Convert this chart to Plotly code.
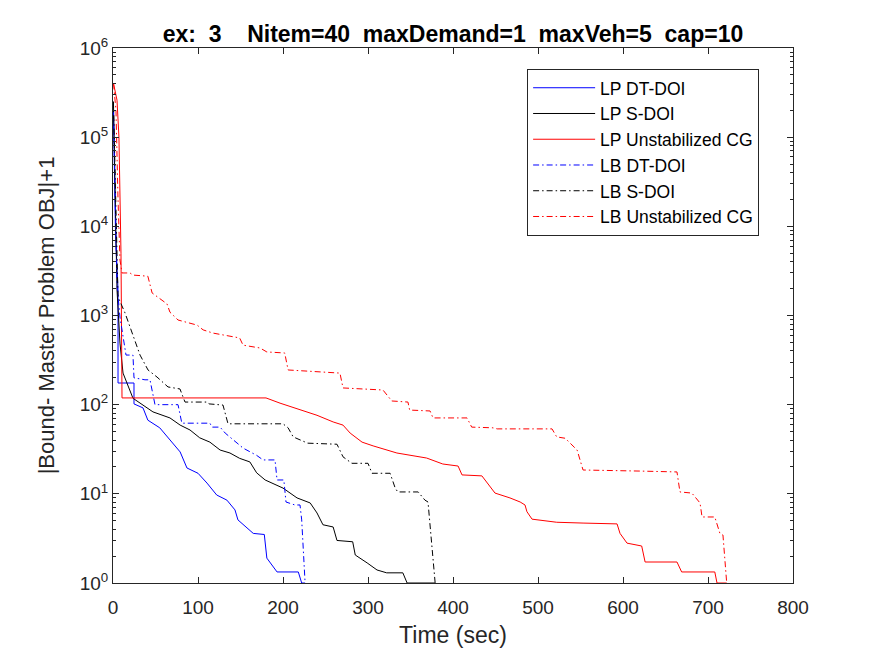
import plotly.graph_objects as go

# ---- data ----
lp_dt_x = [0.5, 3, 5.9, 5.9, 24.7, 24.7, 35.3, 41, 55, 67, 79, 87, 100, 110.6, 122, 134, 143.5, 147, 165, 178, 181, 193, 218, 222, 226]
lp_dt_y = [2.0e5, 8000, 1950, 175, 175, 102, 92, 67, 55, 40, 29.5, 19.5, 17, 13.2, 9.7, 8.5, 6.6, 5.1, 3.6, 3.5, 1.9, 1.33, 1.33, 1.0, 1.0]

lp_s_x = [0.5, 3, 4.7, 8.2, 11.8, 23.5, 35.3, 47, 67, 79, 90.6, 102, 114, 126, 137.6, 149, 161, 169, 179, 193, 200, 216.5, 232, 240, 247, 259, 263.5, 282, 285, 299, 310.6, 322, 341, 346, 379]
lp_s_y = [2.5e5, 1.0e4, 1950, 490, 226, 118, 99, 83, 71, 59, 52, 42.5, 38, 31, 28.7, 25, 22.8, 17.2, 14.3, 12.6, 11.6, 9.0, 7.9, 6.1, 4.5, 4.25, 3.0, 2.9, 2.06, 1.68, 1.4, 1.3, 1.3, 1.0, 1.0]

lp_un_x = [0.6, 4.7, 7, 9.4, 10.6, 180, 196.5, 220, 240, 259, 270.6, 279, 287, 293, 306, 334, 369, 388, 406, 410.6, 434, 440, 449.4, 467, 479, 484.7, 487, 493, 522, 553, 593, 596.5, 604.7, 622, 626, 663.5, 669, 708, 710.6, 722]
lp_un_y = [4.0e5, 2.6e5, 1.0e5, 5000, 119, 119, 104, 87, 76, 64, 59, 48, 42, 38, 34.5, 28.7, 25.2, 21.6, 20.5, 16.3, 15.9, 13.5, 10.2, 9.0, 8.1, 7.5, 6.3, 5.2, 4.8, 4.7, 4.6, 3.6, 2.8, 2.6, 1.72, 1.72, 1.33, 1.33, 1.0, 1.0]

lb_dt_x = [0.5, 4.7, 8.2, 15.3, 23.5, 24.7, 37.6, 43.5, 49.4, 76.5, 81, 114, 116.5, 126, 132, 153, 169, 176.5, 190.6, 193, 201, 203.5, 214, 220, 222, 226]
lb_dt_y = [2.0e5, 2200, 960, 360, 360, 200, 190, 190, 100, 100, 62, 62, 56, 56, 48, 32.6, 27, 24, 24, 14.3, 14.3, 8.1, 7.5, 7.5, 5.1, 1.0]

lb_s_x = [0.5, 5.9, 14.1, 23.5, 31.8, 41.2, 51.8, 64.7, 78.8, 82.4, 84.7, 110.6, 113, 129.4, 135.3, 200, 206, 212, 229, 263.5, 270.6, 281, 300, 304.7, 326, 332, 335, 359, 367, 370.6, 379]
lb_s_y = [2.5e5, 1620, 1070, 605, 360, 245, 204, 158, 150, 122, 107, 107, 102, 99, 61, 61, 55, 43.5, 37, 36, 26, 22, 22, 17, 17, 11.6, 10.5, 10.5, 8.5, 8.1, 1.0]

lb_un_x = [0.6, 3.5, 5.9, 8.2, 10.6, 20, 23.5, 41, 46, 57.6, 63.5, 67, 76.5, 99, 106, 117.6, 134, 149, 153, 173, 181, 202, 206, 267, 270.6, 317.6, 328, 347, 349, 373, 376.5, 416.5, 422, 447, 452, 516.5, 522, 532, 546, 553, 620, 663.5, 667, 681, 690.6, 693, 708, 714, 717.6, 722]
lb_un_y = [4.0e5, 2.0e5, 2.0e4, 4200, 3000, 3000, 2840, 2760, 1790, 1490, 1350, 1090, 890, 780, 690, 635, 590, 560, 465, 432, 390, 380, 245, 226, 154, 146, 110, 107, 87, 85, 71, 71, 56, 55, 53.5, 53.5, 43.5, 42, 31, 18.5, 18, 17.6, 10.5, 10.2, 7.9, 5.5, 5.5, 3.6, 3.45, 1.0]

x_ticks = [0, 100, 200, 300, 400, 500, 600, 700, 800]
y_exps = [0, 1, 2, 3, 4, 5, 6]

title_text = "ex:  3    Nitem=40  maxDemand=1  maxVeh=5  cap=10"
x_title = "Time (sec)"
y_title = "|Bound- Master Problem OBJ|+1"

series = [
    ("LP DT-DOI", lp_dt_x, lp_dt_y, "#0000FF", "solid"),
    ("LP S-DOI", lp_s_x, lp_s_y, "#000000", "solid"),
    ("LP Unstabilized CG", lp_un_x, lp_un_y, "#FF0000", "solid"),
    ("LB DT-DOI", lb_dt_x, lb_dt_y, "#0000FF", "6px,3px,1.5px,3px"),
    ("LB S-DOI", lb_s_x, lb_s_y, "#000000", "6px,3px,1.5px,3px"),
    ("LB Unstabilized CG", lb_un_x, lb_un_y, "#FF0000", "6px,3px,1.5px,3px"),
]

FONT = "Liberation Sans, Arial, Helvetica, sans-serif"
AX = "#262626"

fig = go.Figure()
for name, xs, ys, col, dash in series:
    fig.add_trace(go.Scatter(x=xs, y=ys, mode="lines", name=name,
                             line=dict(color=col, width=1, dash=dash)))

minor_vals = [m * 10 ** e for e in y_exps[:-1] for m in range(2, 10)]

# the page body adds an 8px offset, so margins are shifted accordingly
fig.update_layout(
    width=875, height=656,
    paper_bgcolor="white", plot_bgcolor="white",
    margin=dict(l=105, r=90, t=40, b=81, autoexpand=False),
    font=dict(family=FONT, color=AX, size=19),
    title=dict(text="<b>" + title_text + "</b>", x=0.5, xref="paper",
               y=1 - 26 / 656, yref="container", yanchor="middle",
               font=dict(size=23, color="#000000"), automargin=False),
    showlegend=True,
    legend=dict(x=0.609, y=0.961, xanchor="left", yanchor="top",
                bgcolor="white", bordercolor=AX, borderwidth=1,
                font=dict(size=17.5, color="#000000"),
                tracegroupgap=0, itemwidth=62),
)

fig.update_xaxes(
    range=[0, 800], tickvals=x_ticks, ticktext=[str(v) for v in x_ticks],
    ticks="inside", ticklen=6, tickwidth=1, tickcolor=AX,
    showline=True, linecolor=AX, linewidth=1, mirror="ticks",
    showgrid=False, zeroline=False, automargin=False,
    ticklabelstandoff=7,
    title=dict(text=x_title, font=dict(size=23), standoff=10),
    tickfont=dict(size=19),
)
fig.update_yaxes(
    type="log", range=[0, 6],
    tickvals=[10 ** e for e in y_exps],
    ticktext=["10<sup>%d</sup>" % e for e in y_exps],
    ticks="inside", ticklen=6, tickwidth=1, tickcolor=AX,
    minor=dict(tickvals=minor_vals, ticks="inside", ticklen=3, tickcolor=AX, showgrid=False),
    showline=True, linecolor=AX, linewidth=1, mirror="ticks",
    showgrid=False, zeroline=False, automargin=False,
    title=dict(text=y_title, font=dict(size=22), standoff=18),
    tickfont=dict(size=19),
)

fig.write_html("out.html")
